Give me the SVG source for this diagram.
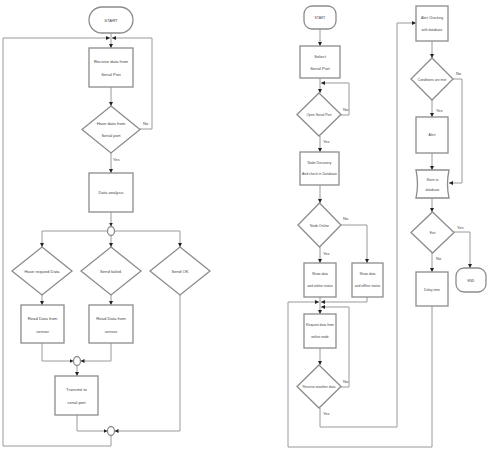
<svg xmlns="http://www.w3.org/2000/svg" width="497" height="456" viewBox="0 0 497 456">
<style>
.s{fill:#fff;stroke:#8c8c8c;stroke-width:1.3}
.c{fill:none;stroke:#9a9a9a;stroke-width:1}
.t{font-family:"Liberation Sans",Arial,sans-serif;font-size:4.2px;fill:#444;text-anchor:middle}
.r{font-size:3.4px}
.l{font-family:"Liberation Sans",Arial,sans-serif;font-size:4px;fill:#444}
</style>
<defs>
<marker id="a" markerUnits="userSpaceOnUse" markerWidth="4" markerHeight="4" refX="4" refY="2" orient="auto">
<path d="M0,0 L4,2 L0,4 z" fill="#222"/>
</marker>
</defs>
<rect width="497" height="456" fill="#fff"/>
<g id="connectors" marker-end="url(#a)">
<path class="c" d="M111,33 V48"/>
<path class="c" d="M111,446 H3 V38 H110"/>
<path class="c" d="M140,129 H152 V38 H112"/>
<path class="c" d="M111,87 V106"/>
<path class="c" d="M111,153 V173"/>
<path class="c" d="M111,212 V226.5"/>
<path class="c" d="M107.5,231 H42 V247"/>
<path class="c" d="M114.5,231 H180 V247"/>
<path class="c" d="M111,235.5 V247"/>
<path class="c" d="M42,295 V305"/>
<path class="c" d="M111,295 V305"/>
<path class="c" d="M42,343 V361 H73.5"/>
<path class="c" d="M111,343 V361 H80.5"/>
<path class="c" d="M77,365.5 V376"/>
<path class="c" d="M77,415 V431 H107.5"/>
<path class="c" d="M180,295 V431 H114.5"/>
<path class="c" d="M111,435.5 V446" marker-end="none"/>
<path class="c" d="M320,29 V46"/>
<path class="c" d="M320,78 V93"/>
<path class="c" d="M341,115 H349 V83 H321"/>
<path class="c" d="M320,136 V152"/>
<path class="c" d="M320,185 V203"/>
<path class="c" d="M320,247 V263"/>
<path class="c" d="M341,225 H367 V263"/>
<path class="c" d="M320,297 V314"/>
<path class="c" d="M367,297 V302 H321"/>
<path class="c" d="M432,306 V447 H288 V302 H319"/>
<path class="c" d="M320,348 V365"/>
<path class="c" d="M341,387 H349 V307 H321"/>
<path class="c" d="M320,408 V427 H397 V23 H416"/>
<path class="c" d="M432,41 V58"/>
<path class="c" d="M453,79 H462 V183 H449"/>
<path class="c" d="M432,100 V117"/>
<path class="c" d="M432,153 V170"/>
<path class="c" d="M432,198 V212"/>
<path class="c" d="M454,232 H470 V268"/>
<path class="c" d="M432,253 V272"/>
</g>
<g id="labels">
<text class="l" x="143" y="125">No</text>
<text class="l" x="113" y="161">Yes</text>
<text class="l r" x="343" y="111">No</text>
<text class="l r" x="323" y="143">Yes</text>
<text class="l r" x="343" y="220">No</text>
<text class="l r" x="323" y="255">Yes</text>
<text class="l r" x="343" y="383">No</text>
<text class="l r" x="323" y="415">Yes</text>
<text class="l r" x="456" y="75">No</text>
<text class="l r" x="436" y="112">Yes</text>
<text class="l r" x="457" y="229">Yes</text>
<text class="l r" x="436" y="260">No</text>
</g>
<g id="start1"><rect class="s" x="89" y="7" width="44" height="26" rx="13"/><text class="t" x="111" y="21.5">START</text></g>
<g id="receive"><rect class="s" x="89" y="48" width="44" height="39"/><text class="t" x="111" y="63">Receive data from</text><text class="t" x="111" y="76">Serial Port</text></g>
<g id="havedata"><path class="s" d="M111,106 L140,129.5 L111,153 L82,129.5 Z"/><text class="t" x="111" y="125">Have data from</text><text class="t" x="111" y="137">Serial port</text></g>
<g id="analysis"><rect class="s" x="89" y="173" width="44" height="39"/><text class="t" x="111" y="194">Data analysis</text></g>
<g id="j1"><ellipse class="s" cx="111" cy="231" rx="3.5" ry="4.5"/></g>
<g id="requied"><path class="s" d="M42,247 L72,271 L42,295 L12,271 Z"/><text class="t" x="42" y="272.5">Have requied Data</text></g>
<g id="failed"><path class="s" d="M111,247 L141,271 L111,295 L81,271 Z"/><text class="t" x="111" y="272.5">Send failed.</text></g>
<g id="ok"><path class="s" d="M180,247 L210,271 L180,295 L150,271 Z"/><text class="t" x="180" y="272.5">Send OK</text></g>
<g id="read1"><rect class="s" x="21" y="305" width="43" height="38"/><text class="t" x="42.5" y="320">Read Data from</text><text class="t" x="42.5" y="333">sensor</text></g>
<g id="read2"><rect class="s" x="89" y="305" width="44" height="38"/><text class="t" x="111" y="320">Read Data from</text><text class="t" x="111" y="333">sensor</text></g>
<g id="j2"><ellipse class="s" cx="77" cy="361" rx="3.5" ry="4.5"/></g>
<g id="transmit"><rect class="s" x="55" y="376" width="43" height="39"/><text class="t" x="76.5" y="391">Transmit to</text><text class="t" x="76.5" y="404">serial port</text></g>
<g id="j3"><ellipse class="s" cx="111" cy="431" rx="3.5" ry="4.5"/></g>
<g id="start2"><rect class="s" x="304" y="6" width="32" height="23" rx="8"/><text class="t r" x="320" y="19">START</text></g>
<g id="select"><rect class="s" x="300" y="46" width="40" height="32"/><text class="t" x="320" y="58">Select</text><text class="t" x="320" y="70">Serial Port</text></g>
<g id="open"><path class="s" d="M319,93 L341,114.5 L319,136 L297,114.5 Z"/><text class="t r" x="319" y="116">Open Serial Port</text></g>
<g id="discovery"><rect class="s" x="300" y="152" width="39" height="33"/><text class="t r" x="319.5" y="164">Node Discovery</text><text class="t r" x="319.5" y="175">And check in Database</text></g>
<g id="online"><path class="s" d="M319.5,203 L341,225 L319.5,247 L298,225 Z"/><text class="t r" x="319.5" y="226.5">Node Online</text></g>
<g id="showon"><rect class="s" x="304" y="263" width="32" height="34"/><text class="t r" x="320" y="275">Show data</text><text class="t r" x="320" y="287">and online status</text></g>
<g id="showoff"><rect class="s" x="352" y="263" width="31" height="34"/><text class="t r" x="367.5" y="275">Show data</text><text class="t r" x="367.5" y="287">and offline status</text></g>
<g id="request"><rect class="s" x="304" y="314" width="32" height="34"/><text class="t r" x="320" y="326">Request data from</text><text class="t r" x="320" y="338">online node</text></g>
<g id="weather"><path class="s" d="M319,365 L341,386.5 L319,408 L297,386.5 Z"/><text class="t r" x="319" y="388">Receive weather data</text></g>
<g id="alertcheck"><rect class="s" x="416" y="6" width="32" height="35"/><text class="t r" x="432" y="19">Alert Checking</text><text class="t r" x="432" y="31">with database</text></g>
<g id="conditions"><path class="s" d="M432,58 L453,79 L432,100 L411,79 Z"/><text class="t r" x="432" y="80.5">Conditions are met</text></g>
<g id="alert"><rect class="s" x="416" y="117" width="32" height="36"/><text class="t r" x="432" y="136">Alert</text></g>
<g id="store"><path class="s" d="M416,170 H449 Q446,184 449,198 H416 Q419,184 416,170 Z"/><text class="t r" x="432.5" y="181">Store to</text><text class="t r" x="432.5" y="191">database</text></g>
<g id="exit"><path class="s" d="M432.5,212 L454,232.5 L432.5,253 L411,232.5 Z"/><text class="t r" x="432.5" y="234">Exit</text></g>
<g id="end"><rect class="s" x="456" y="268" width="30" height="24" rx="8"/><text class="t r" x="471" y="281.5">END</text></g>
<g id="delay"><rect class="s" x="416" y="272" width="32" height="34"/><text class="t r" x="432" y="290.5">Delay time</text></g>
</svg>
